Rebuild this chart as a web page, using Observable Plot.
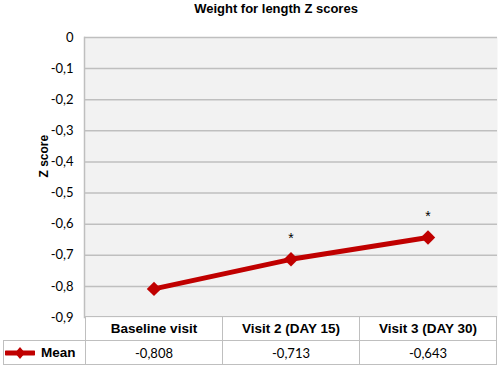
<!DOCTYPE html>
<html><head><meta charset="utf-8">
<script src="https://cdn.jsdelivr.net/npm/d3@7"></script>
<script src="https://cdn.jsdelivr.net/npm/@observablehq/plot@0.6"></script>
<style>
html,body{margin:0;padding:0;background:#fff;}
#wrap{position:relative;width:500px;height:369px;overflow:hidden;}
#title{position:absolute;left:52px;top:1px;width:448px;text-align:center;font:bold 13px "Liberation Sans",Arial,sans-serif;color:#000;}
#chart{position:absolute;left:0;top:0;}
table{position:absolute;border-collapse:collapse;table-layout:fixed;}
td{border:1.5px solid #bfbfbf;height:24px;padding:0;text-align:center;box-sizing:border-box;}
td.hdr{font:bold 13.5px "Liberation Sans",Arial,sans-serif;}
td.val{font:13px Lato,sans-serif;}
td.blank{border:none;border-right:1.5px solid #bfbfbf;}
td.lab{font:bold 13.5px "Liberation Sans",Arial,sans-serif;text-align:left;white-space:nowrap;}
</style></head>
<body>
<div id="wrap">
  <div id="chart"></div>
  <div id="title">Weight for length Z scores</div>
</div>
<script>
const categories = ["Baseline visit", "Visit 2 (DAY 15)", "Visit 3 (DAY 30)"];
const means = [-0.808, -0.713, -0.643];
const significance = ["", "*", "*"];
const yTicks = [0, -0.1, -0.2, -0.3, -0.4, -0.5, -0.6, -0.7, -0.8, -0.9];
const seriesName = "Mean";
const titleText = "Weight for length Z scores";
const yLabel = "Z score";

const rows = categories.map((c, i) => ({visit: c, mean: means[i], sig: significance[i]}));
const tickFmt = d => d === 0 ? "0" : d.toFixed(1).replace(".", ",");
const valFmt = d => d.toFixed(3).replace(".", ",");
const red = "#c00000";

const chart = Plot.plot({
  width: 500, height: 369,
  marginLeft: 84, marginRight: 3, marginTop: 37, marginBottom: 52,
  x: {type: "band", domain: categories, padding: 0, axis: null},
  y: {domain: [-0.9, 0], axis: null},
  style: {background: "transparent", overflow: "visible"},
  marks: [
    Plot.frame({fill: "#f2f2f2", stroke: null}),
    Plot.ruleY(yTicks.slice(0, -1), {stroke: "#bfbfbf", strokeWidth: 1.5}),
    Plot.frame({anchor: "left", stroke: "#bfbfbf", strokeWidth: 1.5}),
    Plot.axisY({ticks: yTicks, tickSize: 0, tickPadding: 11, tickFormat: tickFmt, fontSize: 13, fontFamily: "Lato, sans-serif", label: null}),
    Plot.text([yLabel], {frameAnchor: "left", dx: -40, rotate: -90, fontWeight: "bold", fontSize: 12, fontFamily: "Liberation Sans, Arial, sans-serif", fill: "#000"}),
    Plot.line(rows, {x: "visit", y: "mean", stroke: red, strokeWidth: 5}),
    Plot.dot(rows, {x: "visit", y: "mean", symbol: "diamond2", r: 6.5, fill: red, stroke: null}),
    Plot.text(rows, {x: "visit", y: "mean", text: "sig", dy: -21, fontSize: 14, fill: "#000", fontFamily: "Liberation Sans, Arial, sans-serif"})
  ]
});
document.getElementById("chart").appendChild(chart);
document.getElementById("title").textContent = titleText;

// table below the plot, aligned to the x band scale
const xs = chart.scale("x");
const bw = xs.bandwidth;
const x0 = xs.apply(categories[0]);
const yBottom = chart.scale("y").apply(-0.9);
const leftW = x0 - 3;
const table = document.createElement("table");
table.style.left = "3px";
table.style.top = (yBottom - 0.75) + "px";
table.style.width = (leftW + bw * categories.length) + "px";
const cg = document.createElement("colgroup");
[leftW, ...categories.map(() => bw)].forEach(w => { const c = document.createElement("col"); c.style.width = w + "px"; cg.appendChild(c); });
table.appendChild(cg);
const tr1 = document.createElement("tr");
const b = document.createElement("td"); b.className = "blank"; tr1.appendChild(b);
categories.forEach(c => { const td = document.createElement("td"); td.className = "hdr"; td.textContent = c; tr1.appendChild(td); });
table.appendChild(tr1);
const tr2 = document.createElement("tr");
const lab = document.createElement("td"); lab.className = "lab";
lab.innerHTML = `<svg width="30" height="14" style="vertical-align:middle;margin-left:1px;margin-right:6px"><line x1="1" y1="7" x2="29" y2="7" stroke="${red}" stroke-width="5" stroke-linecap="round"/><path d="M15 1 L20 7 L15 13 L10 7 Z" fill="${red}"/></svg>`;
lab.appendChild(document.createTextNode(seriesName));
tr2.appendChild(lab);
means.forEach(v => { const td = document.createElement("td"); td.className = "val"; td.textContent = valFmt(v); tr2.appendChild(td); });
table.appendChild(tr2);
document.getElementById("wrap").appendChild(table);
</script>
</body></html>
